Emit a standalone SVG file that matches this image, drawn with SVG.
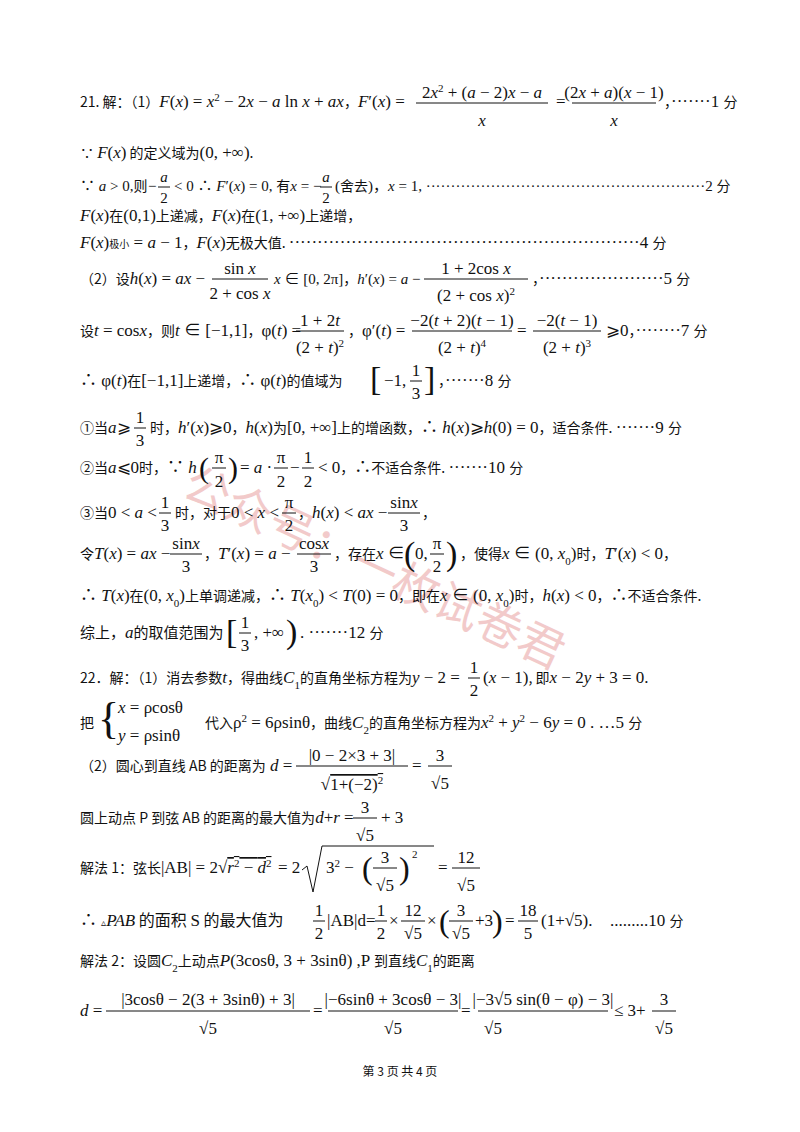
<svg xmlns="http://www.w3.org/2000/svg" width="800" height="1132" viewBox="0 0 800 1132">
<style>
text{font-family:"Liberation Serif","Noto Sans CJK SC",serif;font-size:17px;fill:#111}
.c{font-family:"Noto Sans CJK SC","Liberation Sans",sans-serif;font-size:14px}
.i{font-style:italic}
.s{font-size:11px}
.m{text-anchor:middle}
.b{stroke:#111;stroke-width:1;fill:none}
.wm{font-family:"Noto Sans CJK SC",sans-serif;font-size:46px;fill:#e8a0a0;opacity:0.55}
</style>
<rect width="800" height="1132" fill="#fff"/>
<g id="watermark"><text class="wm" transform="translate(180,495) rotate(25)">公众号：一枚试卷君</text></g>
<g id="q21">
<text x="80" y="107"><tspan class="c">21. 解：（1）</tspan><tspan class="i">F</tspan>(<tspan class="i">x</tspan>) = <tspan class="i">x</tspan><tspan baseline-shift="super" class="s">2</tspan> − 2<tspan class="i">x</tspan> − <tspan class="i">a</tspan> ln <tspan class="i">x</tspan> + <tspan class="i">ax</tspan><tspan class="c">，</tspan><tspan class="i">F</tspan>′(<tspan class="i">x</tspan>) =</text>
<text x="482" y="98" class="m">2<tspan class="i">x</tspan><tspan baseline-shift="super" class="s">2</tspan> + (<tspan class="i">a</tspan> − 2)<tspan class="i">x</tspan> − <tspan class="i">a</tspan></text>
<line class="b" x1="416" y1="103" x2="548" y2="103"/><text x="482" y="126" class="m i">x</text>
<text x="556" y="107">=</text>
<text x="614" y="98" class="m">(2<tspan class="i">x</tspan> + <tspan class="i">a</tspan>)(<tspan class="i">x</tspan> − 1)</text>
<line class="b" x1="572" y1="103" x2="656" y2="103"/><text x="614" y="126" class="m i">x</text>
<text x="664" y="107"><tspan class="c">，</tspan>·······1 <tspan class="c">分</tspan></text>

<text x="80" y="158"><tspan class="c">∵ </tspan><tspan class="i">F</tspan>(<tspan class="i">x</tspan>)<tspan class="c"> 的定义域为</tspan>(0, +∞)<tspan class="c">.</tspan></text>

<text x="80" y="191" style="font-size:15px">∵ <tspan class="i">a</tspan> &gt; 0,<tspan class="c">则</tspan></text>
<text x="148" y="191" style="font-size:15px">−</text>
<text x="164" y="182" class="m i" style="font-size:15px">a</text><line class="b" x1="158" y1="187" x2="170" y2="187"/><text x="164" y="203" class="m" style="font-size:15px">2</text>
<text x="174" y="191" style="font-size:15px">&lt; 0 ∴ <tspan class="i">F</tspan>′(<tspan class="i">x</tspan>) = 0, <tspan class="c">有</tspan><tspan class="i">x</tspan> = −</text>
<text x="326" y="182" class="m i" style="font-size:15px">a</text><line class="b" x1="320" y1="187" x2="332" y2="187"/><text x="326" y="203" class="m" style="font-size:15px">2</text>
<text x="335" y="191" style="font-size:15px">(<tspan class="c">舍去</tspan>)，<tspan class="i">x</tspan> = 1, ························································2 <tspan class="c">分</tspan></text>

<text x="80" y="221"><tspan class="i">F</tspan>(<tspan class="i">x</tspan>)<tspan class="c">在</tspan>(0,1)<tspan class="c">上递减，</tspan><tspan class="i">F</tspan>(<tspan class="i">x</tspan>)<tspan class="c">在</tspan>(1, +∞)<tspan class="c">上递增，</tspan></text>
<text x="80" y="248"><tspan class="i">F</tspan>(<tspan class="i">x</tspan>)<tspan class="c" style="font-size:10px">极小</tspan> = <tspan class="i">a</tspan> − 1<tspan class="c">，</tspan><tspan class="i">F</tspan>(<tspan class="i">x</tspan>)<tspan class="c">无极大值. </tspan>······························································4 <tspan class="c">分</tspan></text>

<text x="80" y="284"><tspan class="c">（2）设</tspan><tspan class="i">h</tspan>(<tspan class="i">x</tspan>) = <tspan class="i">ax</tspan> −</text>
<text x="240" y="274" class="m">sin <tspan class="i">x</tspan></text><line class="b" x1="212" y1="279" x2="268" y2="279"/><text x="240" y="299" class="m">2 + cos <tspan class="i">x</tspan></text>
<text x="274" y="284" style="font-size:15px"><tspan class="i">x</tspan> ∈ [0, 2π]<tspan class="c">，</tspan><tspan class="i">h</tspan>′(<tspan class="i">x</tspan>) = <tspan class="i">a</tspan> −</text>
<text x="476" y="274" class="m">1 + 2cos <tspan class="i">x</tspan></text><line class="b" x1="424" y1="279" x2="528" y2="279"/><text x="476" y="301" class="m">(2 + cos <tspan class="i">x</tspan>)<tspan baseline-shift="super" class="s">2</tspan></text>
<text x="532" y="284"><tspan class="c">，</tspan>······················5 <tspan class="c">分</tspan></text>

<text x="80" y="336"><tspan class="c">设</tspan><tspan class="i">t</tspan> = cos<tspan class="i">x</tspan><tspan class="c">，则</tspan><tspan class="i">t</tspan> ∈ [−1,1]<tspan class="c">，</tspan>φ(<tspan class="i">t</tspan>) =</text>
<text x="320" y="326" class="m">1 + 2<tspan class="i">t</tspan></text><line class="b" x1="296" y1="331" x2="344" y2="331"/><text x="320" y="353" class="m">(2 + <tspan class="i">t</tspan>)<tspan baseline-shift="super" class="s">2</tspan></text>
<text x="348" y="336"><tspan class="c">，</tspan>φ′(<tspan class="i">t</tspan>) =</text>
<text x="462" y="326" class="m">−2(<tspan class="i">t</tspan> + 2)(<tspan class="i">t</tspan> − 1)</text><line class="b" x1="412" y1="331" x2="512" y2="331"/><text x="462" y="353" class="m">(2 + <tspan class="i">t</tspan>)<tspan baseline-shift="super" class="s">4</tspan></text>
<text x="517" y="336">=</text>
<text x="567" y="326" class="m">−2(<tspan class="i">t</tspan> − 1)</text><line class="b" x1="533" y1="331" x2="601" y2="331"/><text x="567" y="353" class="m">(2 + <tspan class="i">t</tspan>)<tspan baseline-shift="super" class="s">3</tspan></text>
<text x="606" y="336">⩾0<tspan class="c">，</tspan>········7 <tspan class="c">分</tspan></text>

<text x="80" y="386">∴ φ(<tspan class="i">t</tspan>)<tspan class="c">在</tspan>[−1,1]<tspan class="c">上递增，</tspan>∴ φ(<tspan class="i">t</tspan>)<tspan class="c">的值域为</tspan></text>
<text x="370" y="390" style="font-size:34px">[</text><text x="384" y="386">−1,</text>
<text x="416" y="376" class="m">1</text><line class="b" x1="410" y1="381" x2="422" y2="381"/><text x="416" y="399" class="m">3</text>
<text x="424" y="390" style="font-size:34px">]</text>
<text x="438" y="386"><tspan class="c">，</tspan>·······8 <tspan class="c">分</tspan></text>

<text x="80" y="433"><tspan class="c">①当</tspan><tspan class="i">a</tspan>⩾</text>
<text x="140" y="423" class="m">1</text><line class="b" x1="134" y1="428" x2="146" y2="428"/><text x="140" y="446" class="m">3</text>
<text x="150" y="433"><tspan class="c">时，</tspan><tspan class="i">h</tspan>′(<tspan class="i">x</tspan>)⩾0<tspan class="c">，</tspan><tspan class="i">h</tspan>(<tspan class="i">x</tspan>)<tspan class="c">为</tspan>[0, +∞]<tspan class="c">上的增函数，</tspan>∴ <tspan class="i">h</tspan>(<tspan class="i">x</tspan>)⩾<tspan class="i">h</tspan>(0) = 0<tspan class="c">，适合条件. </tspan>·······9 <tspan class="c">分</tspan></text>

<text x="80" y="473"><tspan class="c">②当</tspan><tspan class="i">a</tspan>⩽0<tspan class="c">时，</tspan>∵ <tspan class="i">h</tspan></text>
<text x="199" y="478" style="font-size:30px">(</text><text x="219" y="463" class="m">π</text><line class="b" x1="212" y1="468" x2="226" y2="468"/><text x="219" y="487" class="m">2</text><text x="228" y="478" style="font-size:30px">)</text>
<text x="240" y="473">= <tspan class="i">a</tspan> ·</text>
<text x="281" y="463" class="m">π</text><line class="b" x1="274" y1="468" x2="288" y2="468"/><text x="281" y="487" class="m">2</text>
<text x="290" y="473">−</text>
<text x="308" y="463" class="m">1</text><line class="b" x1="302" y1="468" x2="314" y2="468"/><text x="308" y="487" class="m">2</text>
<text x="318" y="473">&lt; 0<tspan class="c">，</tspan>∴<tspan class="c">不适合条件. </tspan>·······10 <tspan class="c">分</tspan></text>

<text x="80" y="518"><tspan class="c">③当</tspan>0 &lt; <tspan class="i">a</tspan> &lt;</text>
<text x="165" y="508" class="m">1</text><line class="b" x1="159" y1="513" x2="171" y2="513"/><text x="165" y="531" class="m">3</text>
<text x="175" y="518"><tspan class="c">时，对于</tspan>0 &lt; <tspan class="i">x</tspan> &lt;</text>
<text x="289" y="508" class="m">π</text><line class="b" x1="282" y1="513" x2="296" y2="513"/><text x="289" y="531" class="m">2</text>
<text x="298" y="518"><tspan class="c">，</tspan><tspan class="i">h</tspan>(<tspan class="i">x</tspan>) &lt; <tspan class="i">ax</tspan> −</text>
<text x="404" y="508" class="m">sin<tspan class="i">x</tspan></text><line class="b" x1="388" y1="513" x2="420" y2="513"/><text x="404" y="531" class="m">3</text>
<text x="422" y="518" class="c">，</text>

<text x="80" y="559"><tspan class="c">令</tspan><tspan class="i">T</tspan>(<tspan class="i">x</tspan>) = <tspan class="i">ax</tspan> −</text>
<text x="186" y="549" class="m">sin<tspan class="i">x</tspan></text><line class="b" x1="170" y1="554" x2="202" y2="554"/><text x="186" y="572" class="m">3</text>
<text x="204" y="559"><tspan class="c">，</tspan><tspan class="i">T</tspan>′(<tspan class="i">x</tspan>) = <tspan class="i">a</tspan> −</text>
<text x="314" y="549" class="m">cos<tspan class="i">x</tspan></text><line class="b" x1="297" y1="554" x2="331" y2="554"/><text x="314" y="572" class="m">3</text>
<text x="334" y="559"><tspan class="c">，存在</tspan><tspan class="i">x</tspan> ∈</text>
<text x="404" y="565" style="font-size:34px">(</text><text x="415" y="559">0,</text><text x="437" y="549" class="m">π</text><line class="b" x1="430" y1="554" x2="444" y2="554"/><text x="437" y="572" class="m">2</text><text x="446" y="565" style="font-size:34px">)</text>
<text x="460" y="559"><tspan class="c">，使得</tspan><tspan class="i">x</tspan> ∈ (0, <tspan class="i">x</tspan><tspan class="s" baseline-shift="sub">0</tspan>)<tspan class="c">时，</tspan><tspan class="i">T</tspan>′(<tspan class="i">x</tspan>) &lt; 0<tspan class="c">，</tspan></text>

<text x="80" y="601">∴ <tspan class="i">T</tspan>(<tspan class="i">x</tspan>)<tspan class="c">在</tspan>(0, <tspan class="i">x</tspan><tspan class="s" baseline-shift="sub">0</tspan>)<tspan class="c">上单调递减，</tspan>∴ <tspan class="i">T</tspan>(<tspan class="i">x</tspan><tspan class="s" baseline-shift="sub">0</tspan>) &lt; <tspan class="i">T</tspan>(0) = 0<tspan class="c">，即在</tspan><tspan class="i">x</tspan> ∈ (0, <tspan class="i">x</tspan><tspan class="s" baseline-shift="sub">0</tspan>)<tspan class="c">时，</tspan><tspan class="i">h</tspan>(<tspan class="i">x</tspan>) &lt; 0<tspan class="c">，</tspan>∴<tspan class="c">不适合条件.</tspan></text>

<text x="80" y="638" class="c" style="font-size:15px">综上，<tspan class="i" style="font-family:'Liberation Serif';font-size:17px">a</tspan>的取值范围为</text>
<text x="226" y="643" style="font-size:34px">[</text><text x="245" y="628" class="m">1</text><line class="b" x1="239" y1="633" x2="251" y2="633"/><text x="245" y="651" class="m">3</text>
<text x="254" y="638">, +∞</text><text x="286" y="643" style="font-size:34px">)</text>
<text x="300" y="638">. ·······12 <tspan class="c">分</tspan></text>
</g>
<g id="q22">
<text x="80" y="683"><tspan class="c">22．解：（1）消去参数</tspan><tspan class="i">t</tspan><tspan class="c">，得曲线</tspan><tspan class="i">C</tspan><tspan class="s" baseline-shift="sub">1</tspan><tspan class="c">的直角坐标方程为</tspan><tspan class="i">y</tspan> − 2 =</text>
<text x="474" y="673" class="m">1</text><line class="b" x1="468" y1="678" x2="480" y2="678"/><text x="474" y="696" class="m">2</text>
<text x="483" y="683">(<tspan class="i">x</tspan> − 1)<tspan class="c">, 即</tspan><tspan class="i">x</tspan> − 2<tspan class="i">y</tspan> + 3 = 0.</text>

<text x="80" y="728" class="c">把</text>
<text x="98" y="733" style="font-size:44px">{</text>
<text x="118" y="713"><tspan class="i">x</tspan> = ρcosθ</text>
<text x="118" y="741"><tspan class="i">y</tspan> = ρsinθ</text>
<text x="205" y="728"><tspan class="c">代入</tspan>ρ<tspan class="s" baseline-shift="super">2</tspan> = 6ρsinθ<tspan class="c">，曲线</tspan><tspan class="i">C</tspan><tspan class="s" baseline-shift="sub">2</tspan><tspan class="c">的直角坐标方程为</tspan><tspan class="i">x</tspan><tspan class="s" baseline-shift="super">2</tspan> + <tspan class="i">y</tspan><tspan class="s" baseline-shift="super">2</tspan> − 6<tspan class="i">y</tspan> = 0 . …5 <tspan class="c">分</tspan></text>

<text x="80" y="771"><tspan class="c">（2）圆心到直线 AB 的距离为</tspan> <tspan class="i">d</tspan> =</text>
<text x="352" y="761" class="m">|0 − 2×3 + 3|</text><line class="b" x1="296" y1="766" x2="408" y2="766"/>
<text x="352" y="790" class="m">√<tspan text-decoration="overline">1+(−2)<tspan class="s" baseline-shift="super">2</tspan></tspan></text>
<text x="412" y="771">=</text>
<text x="440" y="761" class="m">3</text><line class="b" x1="428" y1="766" x2="452" y2="766"/><text x="440" y="789" class="m">√5</text>

<text x="80" y="823"><tspan class="c">圆上动点 P 到弦 AB 的距离的最大值为</tspan><tspan class="i">d</tspan>+<tspan class="i">r</tspan> =</text>
<text x="365" y="813" class="m">3</text><line class="b" x1="353" y1="818" x2="377" y2="818"/><text x="365" y="841" class="m">√5</text>
<text x="381" y="823">+ 3</text>

<text x="80" y="873"><tspan class="c">解法 1：弦长</tspan>|AB| = 2√<tspan text-decoration="overline"><tspan class="i">r</tspan><tspan class="s" baseline-shift="super">2</tspan> − <tspan class="i">d</tspan><tspan class="s" baseline-shift="super">2</tspan></tspan></text>
<text x="278" y="873">= 2</text>
<path class="b" d="M302 870 L307 866 L313 892 L322 846 L434 846"/>
<text x="326" y="873">3<tspan class="s" baseline-shift="super">2</tspan> −</text>
<text x="362" y="879" style="font-size:32px">(</text><text x="385" y="863" class="m">3</text><line class="b" x1="373" y1="868" x2="397" y2="868"/><text x="385" y="891" class="m">√5</text><text x="399" y="879" style="font-size:32px">)</text>
<text x="412" y="858" class="s">2</text>
<text x="438" y="873">=</text>
<text x="466" y="863" class="m">12</text><line class="b" x1="452" y1="868" x2="480" y2="868"/><text x="466" y="891" class="m">√5</text>

<text x="80" y="926">∴ <tspan class="c" style="font-size:10px">▵</tspan><tspan class="i">PAB</tspan><tspan class="c" style="font-size:16px"> 的面积 </tspan>S<tspan class="c" style="font-size:16px"> 的最大值为</tspan></text>
<text x="319" y="916" class="m">1</text><line class="b" x1="313" y1="921" x2="325" y2="921"/><text x="319" y="939" class="m">2</text>
<text x="327" y="926">|AB|d=</text>
<text x="381" y="916" class="m">1</text><line class="b" x1="375" y1="921" x2="387" y2="921"/><text x="381" y="939" class="m">2</text>
<text x="389" y="926">×</text>
<text x="413" y="916" class="m">12</text><line class="b" x1="401" y1="921" x2="425" y2="921"/><text x="413" y="939" class="m">√5</text>
<text x="427" y="926">×</text>
<text x="439" y="932" style="font-size:32px">(</text><text x="461" y="916" class="m">3</text><line class="b" x1="449" y1="921" x2="473" y2="921"/><text x="461" y="939" class="m">√5</text>
<text x="475" y="926">+3</text><text x="492" y="932" style="font-size:32px">)</text>
<text x="505" y="926">=</text>
<text x="528" y="916" class="m">18</text><line class="b" x1="518" y1="921" x2="538" y2="921"/><text x="528" y="939" class="m">5</text>
<text x="541" y="926">(1+√5).</text>
<text x="610" y="926">.........10 <tspan class="c">分</tspan></text>

<text x="80" y="966"><tspan class="c">解法 2：设圆</tspan><tspan class="i">C</tspan><tspan class="s" baseline-shift="sub">2</tspan><tspan class="c">上动点</tspan><tspan class="i">P</tspan>(3cosθ, 3 + 3sinθ) ,P <tspan class="c">到直线</tspan><tspan class="i">C</tspan><tspan class="s" baseline-shift="sub">1</tspan><tspan class="c">的距离</tspan></text>

<text x="80" y="1016"><tspan class="i">d</tspan> =</text>
<text x="208" y="1005" class="m">|3cosθ − 2(3 + 3sinθ) + 3|</text><line class="b" x1="106" y1="1011" x2="310" y2="1011"/><text x="208" y="1034" class="m">√5</text>
<text x="313" y="1016">=</text>
<text x="393" y="1005" class="m">|−6sinθ + 3cosθ − 3|</text><line class="b" x1="328" y1="1011" x2="458" y2="1011"/><text x="393" y="1034" class="m">√5</text>
<text x="461" y="1016">=</text>
<text x="543" y="1005" class="m">|−3√5 sin(θ − φ) − 3|</text><line class="b" x1="478" y1="1011" x2="608" y2="1011"/>
<text x="493" y="1034" class="m">√5</text>
<text x="614" y="1016">≤  3+</text>
<text x="664" y="1005" class="m">3</text><line class="b" x1="652" y1="1011" x2="676" y2="1011"/><text x="664" y="1034" class="m">√5</text>
</g>
<text x="400" y="1076" class="c m" style="font-size:12px">第 3 页  共 4 页</text>
</svg>
